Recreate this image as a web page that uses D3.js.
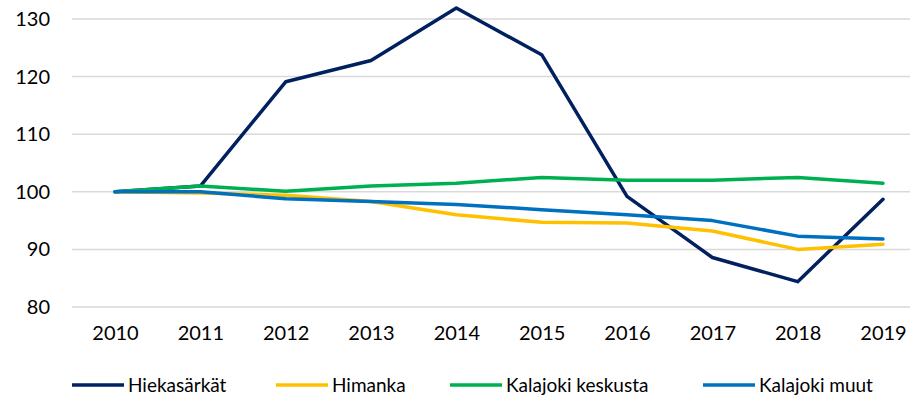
<!DOCTYPE html>
<html>
<head>
<meta charset="utf-8">
<script src="https://cdn.jsdelivr.net/npm/d3@7"></script>
<style>
  body { margin: 0; background: #fff; }
  text { font-family: "Lato", "Open Sans", sans-serif; fill: #000; }
</style>
</head>
<body>
<svg id="chart" width="918" height="403"></svg>
<script>
var years = ["2010", "2011", "2012", "2013", "2014", "2015", "2016", "2017", "2018", "2019"]
var yTicks = [80, 90, 100, 110, 120, 130]
var seriesNames = ["Hiekasärkät", "Himanka", "Kalajoki keskusta", "Kalajoki muut"]
var hiekasarkat = [100, 101, 119.1, 122.8, 131.9, 123.8, 99.2, 88.6, 84.4, 98.7]
var himanka = [100, 99.8, 99.4, 98.3, 96, 94.7, 94.6, 93.2, 90, 90.9]
var kalajokiKeskusta = [100, 101, 100.1, 101, 101.5, 102.5, 102, 102, 102.5, 101.5]
var kalajokiMuut = [100, 100, 98.8, 98.3, 97.8, 96.9, 96, 95, 92.3, 91.8]

var colors = ["#002060", "#ffc000", "#00b050", "#0070c0"]
var allSeries = [hiekasarkat, himanka, kalajokiKeskusta, kalajokiMuut]

var svg = d3.select("#chart")

var x = d3.scalePoint()
    .domain(years)
    .range([115, 883])

var y = d3.scaleLinear()
    .domain([80, 130])
    .range([307, 19])

// gridlines
svg.append("g")
    .selectAll("line")
    .data(yTicks)
    .enter()
    .append("line")
    .attr("x1", 72)
    .attr("x2", 910)
    .attr("y1", function(d) { return y(d) })
    .attr("y2", function(d) { return y(d) })
    .attr("stroke", "#d9d9d9")
    .attr("stroke-width", 1.5)

// y axis labels
var yAxis = d3.axisLeft(y).tickValues(yTicks).tickSize(0).tickPadding(0)
svg.append("g")
    .attr("transform", "translate(50,0)")
    .call(yAxis)
    .call(function(g) {
        g.select(".domain").remove()
        g.selectAll("text")
            .style("font-size", "20px")
            .style("font-family", "Lato, sans-serif")
            .attr("fill", "#000")
    })

// x axis labels
var xAxis = d3.axisBottom(x).tickSize(0).tickPadding(0)
svg.append("g")
    .attr("transform", "translate(0,326)")
    .call(xAxis)
    .call(function(g) {
        g.select(".domain").remove()
        g.selectAll("text")
            .style("font-size", "20px")
            .style("font-family", "Lato, sans-serif")
            .attr("fill", "#000")
    })

var line = d3.line()
    .x(function(d, i) { return x(years[i]) })
    .y(function(d) { return y(d) })

svg.append("g")
    .selectAll("path")
    .data(allSeries)
    .enter()
    .append("path")
    .attr("d", line)
    .attr("fill", "none")
    .attr("stroke", function(d, i) { return colors[i] })
    .attr("stroke-width", 3.5)
    .attr("stroke-linejoin", "round")
    .attr("stroke-linecap", "round")

// legend
var legendX = [72, 276, 450, 703]
var legend = svg.append("g")
    .selectAll("g")
    .data(seriesNames)
    .enter()
    .append("g")
    .attr("transform", function(d, i) { return "translate(" + legendX[i] + ",385)" })

legend.append("line")
    .attr("x1", 0)
    .attr("x2", 52)
    .attr("y1", 0)
    .attr("y2", 0)
    .attr("stroke", function(d, i) { return colors[i] })
    .attr("stroke-width", 3.5)

legend.append("text")
    .attr("x", 56)
    .attr("y", 7)
    .style("font-size", "19px")
    .text(function(d) { return d })
</script>
</body>
</html>
